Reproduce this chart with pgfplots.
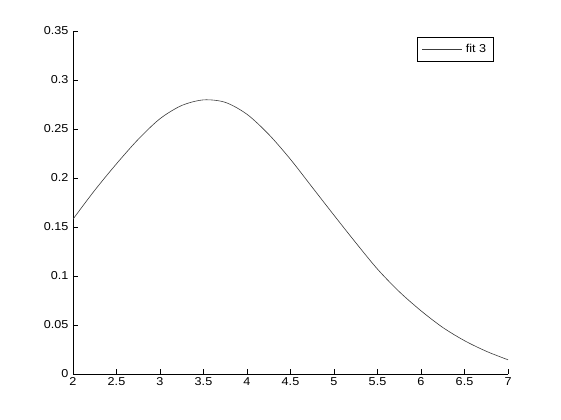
\documentclass[border=0pt]{standalone}
\usepackage{pgfplots}
\pgfplotsset{compat=1.18}
\usepackage{fontspec}
\setmainfont{Liberation Sans}[FakeStretch=1.1]
\usetikzlibrary{calc}
\definecolor{curve}{RGB}{60,60,60}
\begin{document}
\begin{tikzpicture}
\begin{axis}[
  scale only axis,
  width=435bp, height=343bp,
  xmin=2, xmax=7, ymin=0, ymax=0.35,
  axis x line=bottom, axis y line=left,
  axis line style={-, line width=0.8bp},
  tick align=inside,
  major tick length=5bp,
  tick style={line width=0.8bp, black},
  xtick={2,2.5,...,7},
  ytick={0,0.05,...,0.35},
  font=\fontsize{11.5}{13}\selectfont,
  /pgf/number format/assume math mode=true,
  yticklabel style={/pgf/number format/fixed, /pgf/number format/precision=2, xshift=-1bp},
  xticklabel style={/pgf/number format/fixed},
  legend style={at={(0.968,0.9825)}, anchor=north east, draw=black, line width=0.8bp,
    inner xsep=4bp, inner ysep=5bp, font=\fontsize{11.5}{13}\selectfont,
    nodes={inner xsep=3.5bp}},
  legend image code/.code={\draw[#1] (0bp,0bp) -- (40bp,0bp);},
]
\addplot[color=curve, line width=0.6bp, smooth] coordinates {
(2.0,0.158) (2.25,0.1875) (2.5,0.2145) (2.75,0.2395) (3.0,0.2605) (3.25,0.2740)
(3.5,0.2797) (3.75,0.2772) (4.0,0.2650) (4.25,0.2445) (4.5,0.2190)
(4.75,0.1905) (5.0,0.1620) (5.25,0.1340) (5.5,0.1070) (5.75,0.0840) (6.0,0.0645)
(6.25,0.0475) (6.5,0.0340) (6.75,0.0232) (7.0,0.0145)
};
\addlegendentry{fit 3}
\end{axis}
\path ($(current axis.south west)+(-73bp,-46bp)$) rectangle ($(current axis.north east)+(53bp,31bp)$);
\end{tikzpicture}
\end{document}
